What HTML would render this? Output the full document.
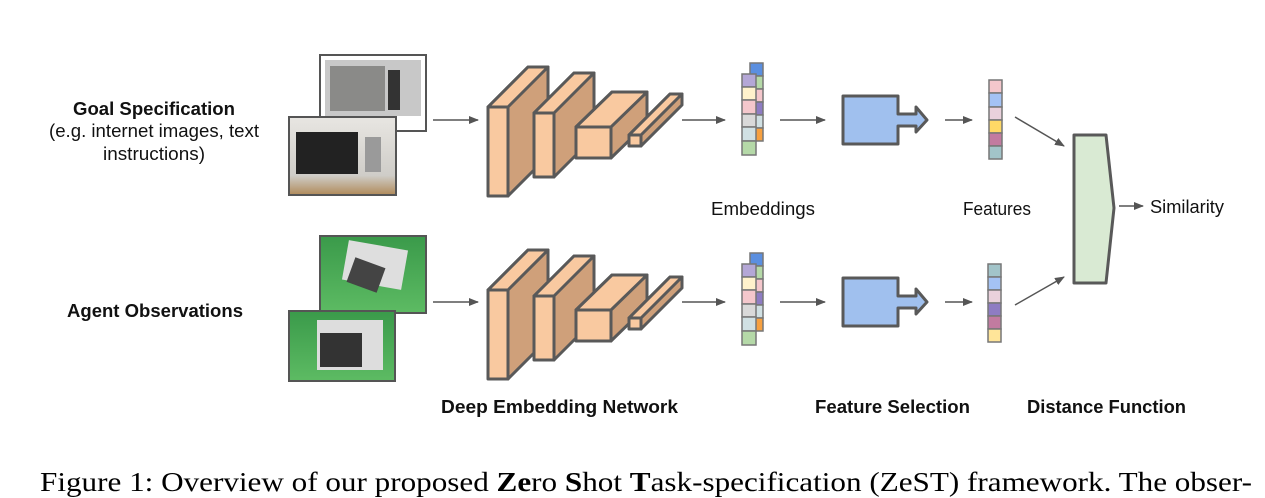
<!DOCTYPE html>
<html><head><meta charset="utf-8"><style>
html,body{margin:0;padding:0;background:#fff;}
body{width:1265px;height:498px;overflow:hidden;position:relative;}
svg{position:absolute;left:0;top:0;}
.s{font-family:"Liberation Sans",Arial,sans-serif;}
</style></head><body>
<svg width="1265" height="498" viewBox="0 0 1265 498" xmlns="http://www.w3.org/2000/svg">
<defs>
<marker id="ah" markerWidth="10" markerHeight="8" refX="9" refY="4" orient="auto" markerUnits="userSpaceOnUse"><path d="M0,0 L10,4 L0,8 z" fill="#555"/></marker>
<linearGradient id="mw" x1="0" y1="0" x2="0" y2="1"><stop offset="0" stop-color="#e8e6e2"/><stop offset="0.75" stop-color="#cfcdc8"/><stop offset="1" stop-color="#b08a5a"/></linearGradient>
<linearGradient id="gr" x1="0" y1="0" x2="0" y2="1"><stop offset="0" stop-color="#3a9a4a"/><stop offset="1" stop-color="#5dbb63"/></linearGradient>
<g id="cnn" stroke="#595959" stroke-width="3" stroke-linejoin="round">
 <path d="M488,107 L528,67 L548,67 L548,156 L508,196 L508,107 Z" fill="#cfa07a"/>
 <path d="M488,107 L528,67 L548,67 L508,107 Z" fill="#f9c9a0"/>
 <rect x="488" y="107" width="20" height="89" fill="#f9c9a0"/>
 <path d="M534,113 L574,73 L594,73 L594,137 L554,177 L554,113 Z" fill="#cfa07a"/>
 <path d="M534,113 L574,73 L594,73 L554,113 Z" fill="#f9c9a0"/>
 <rect x="534" y="113" width="20" height="64" fill="#f9c9a0"/>
 <path d="M576,127 L612,92 L647,92 L647,123 L611,158 L611,127 Z" fill="#cfa07a"/>
 <path d="M576,127 L612,92 L647,92 L611,127 Z" fill="#f9c9a0"/>
 <rect x="576" y="127" width="35" height="31" fill="#f9c9a0"/>
 <path d="M629,135 L670,94 L682,94 L682,105 L641,146 L641,135 Z" fill="#cfa07a"/>
 <path d="M629,135 L670,94 L682,94 L641,135 Z" fill="#f9c9a0"/>
 <rect x="629" y="135" width="12" height="11" fill="#f9c9a0"/>
</g>
<g id="emb" stroke="#777" stroke-width="1.5">
 <rect x="750" y="63" width="13" height="13" fill="#5b8fe0"/>
 <rect x="750" y="76" width="13" height="13" fill="#b5d9a8"/>
 <rect x="750" y="89" width="13" height="13" fill="#f4c7cc"/>
 <rect x="750" y="102" width="13" height="13" fill="#8e7cc3"/>
 <rect x="750" y="115" width="13" height="13" fill="#d0e0e3"/>
 <rect x="750" y="128" width="13" height="13" fill="#f6a040"/>
 <rect x="742" y="74" width="14" height="13" fill="#b4a7d6"/>
 <rect x="742" y="87" width="14" height="13" fill="#fff2cc"/>
 <rect x="742" y="100" width="14" height="14" fill="#f4c7cc"/>
 <rect x="742" y="114" width="14" height="13" fill="#d9d9d9"/>
 <rect x="742" y="127" width="14" height="14" fill="#d0e0e3"/>
 <rect x="742" y="141" width="14" height="14" fill="#b5d9a8"/>
</g>
<path id="fs" d="M843,96 L898,96 L898,114 L916,114 L916,107 L927,120 L916,132 L916,126 L898,126 L898,144 L843,144 Z" fill="#a0c0ee" stroke="#595959" stroke-width="3" stroke-linejoin="round"/>
</defs>

<rect x="320" y="55" width="106" height="76" fill="#fff" stroke="#555" stroke-width="2"/>
<rect x="325" y="60" width="96" height="56" fill="#c8c8c8"/>
<rect x="330" y="66" width="55" height="45" fill="#8a8a88"/>
<rect x="388" y="70" width="12" height="40" fill="#333"/>
<rect x="289" y="117" width="107" height="78" fill="url(#mw)" stroke="#555" stroke-width="2"/>
<rect x="296" y="132" width="62" height="42" fill="#222"/>
<rect x="365" y="137" width="16" height="35" fill="#9a9a9a"/>
<rect x="320" y="236" width="106" height="77" fill="url(#gr)" stroke="#555" stroke-width="2"/>
<rect x="345" y="245" width="60" height="40" fill="#dedede" transform="rotate(10 375 265)"/>
<rect x="350" y="262" width="32" height="26" fill="#444" transform="rotate(20 366 275)"/>
<rect x="289" y="311" width="106" height="70" fill="url(#gr)" stroke="#555" stroke-width="2"/>
<rect x="317" y="320" width="66" height="50" fill="#ddd"/>
<rect x="320" y="333" width="42" height="34" fill="#333"/>

<g stroke="#555" stroke-width="1.5" fill="none" marker-end="url(#ah)">
<line x1="433" y1="120" x2="478" y2="120"/>
<line x1="433" y1="302" x2="478" y2="302"/>
<line x1="682" y1="120" x2="725" y2="120"/>
<line x1="682" y1="302" x2="725" y2="302"/>
<line x1="780" y1="120" x2="825" y2="120"/>
<line x1="780" y1="302" x2="825" y2="302"/>
<line x1="945" y1="120" x2="972" y2="120"/>
<line x1="945" y1="302" x2="972" y2="302"/>
<line x1="1015" y1="117" x2="1064" y2="146"/>
<line x1="1015" y1="305" x2="1064" y2="277"/>
<line x1="1119" y1="206" x2="1143" y2="206"/>
</g>

<use href="#cnn"/>
<use href="#cnn" y="183"/>
<use href="#emb"/>
<use href="#emb" y="190"/>
<use href="#fs"/>
<use href="#fs" y="182"/>

<g stroke="#777" stroke-width="1.5">
 <rect x="989" y="80" width="13" height="13" fill="#f4c7cc"/>
 <rect x="989" y="93" width="13" height="14" fill="#a4c2f4"/>
 <rect x="989" y="107" width="13" height="13" fill="#ead1dc"/>
 <rect x="989" y="120" width="13" height="13" fill="#ffd966"/>
 <rect x="989" y="133" width="13" height="13" fill="#c27ba0"/>
 <rect x="989" y="146" width="13" height="13" fill="#a2c4c9"/>
 <rect x="988" y="264" width="13" height="13" fill="#a2c4c9"/>
 <rect x="988" y="277" width="13" height="13" fill="#a4c2f4"/>
 <rect x="988" y="290" width="13" height="13" fill="#ead1dc"/>
 <rect x="988" y="303" width="13" height="13" fill="#8e7cc3"/>
 <rect x="988" y="316" width="13" height="13" fill="#c27ba0"/>
 <rect x="988" y="329" width="13" height="13" fill="#ffe599"/>
</g>
<path d="M1074,135 L1106,135 L1114,208 L1106,283 L1074,283 Z" fill="#d9ead3" stroke="#595959" stroke-width="3" stroke-linejoin="round"/>

<g class="s" fill="#111" font-size="18.5">
<text x="154" y="115" text-anchor="middle" font-weight="bold" textLength="162" lengthAdjust="spacingAndGlyphs">Goal Specification</text>
<text x="154" y="137" text-anchor="middle" textLength="210" lengthAdjust="spacingAndGlyphs">(e.g. internet images, text</text>
<text x="154" y="160" text-anchor="middle" textLength="102" lengthAdjust="spacingAndGlyphs">instructions)</text>
<text x="155" y="317" text-anchor="middle" font-weight="bold" textLength="176" lengthAdjust="spacingAndGlyphs">Agent Observations</text>
<text x="711" y="215" textLength="104" lengthAdjust="spacingAndGlyphs">Embeddings</text>
<text x="963" y="215" textLength="68" lengthAdjust="spacingAndGlyphs">Features</text>
<text x="1150" y="213" textLength="74" lengthAdjust="spacingAndGlyphs">Similarity</text>
<text x="441" y="413" font-weight="bold" textLength="237" lengthAdjust="spacingAndGlyphs">Deep Embedding Network</text>
<text x="815" y="413" font-weight="bold" textLength="155" lengthAdjust="spacingAndGlyphs">Feature Selection</text>
<text x="1027" y="413" font-weight="bold" textLength="159" lengthAdjust="spacingAndGlyphs">Distance Function</text>
</g>
<text x="40" y="491" font-family="'Liberation Serif','Times New Roman',serif" font-size="27" fill="#000" textLength="1212" lengthAdjust="spacingAndGlyphs">Figure 1:  Overview of our proposed <tspan font-weight="bold">Ze</tspan>ro <tspan font-weight="bold">S</tspan>hot <tspan font-weight="bold">T</tspan>ask-specification (ZeST) framework.  The obser-</text>
</svg>
</body></html>
